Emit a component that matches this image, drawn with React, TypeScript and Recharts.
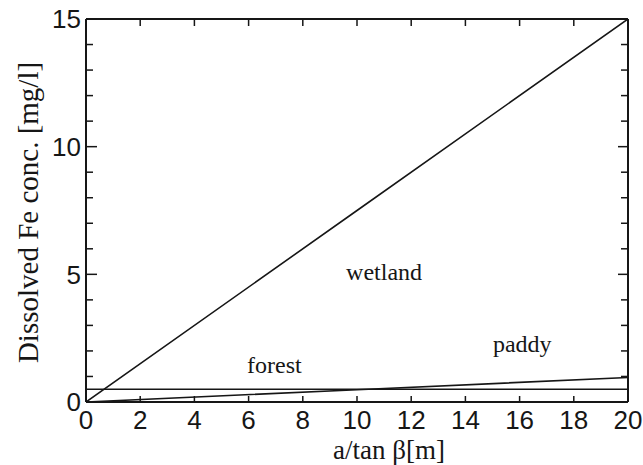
import React from 'react';
import { LineChart, Line, XAxis, YAxis, ReferenceDot, Label } from 'recharts';

// ---- data ----
const xValues = [0, 10, 20];
const wetland = [0, 7.5, 15];
const paddy = [0, 0.48, 0.96];
const forest = [0.5, 0.5, 0.5];

const xTicks = [0, 2, 4, 6, 8, 10, 12, 14, 16, 18, 20];
const yTicks = [0, 1, 2, 3, 4, 5, 6, 7, 8, 9, 10, 11, 12, 13, 14, 15];
const yMajor = [0, 5, 10, 15];

const annotations = [
  { text: 'wetland', x: 11.0, y: 5.1 },
  { text: 'forest', x: 6.95, y: 1.45 },
  { text: 'paddy', x: 16.1, y: 2.3 },
];

const xTitle = 'a/tan β[m]';
const yTitle = 'Dissolved Fe conc. [mg/l]';

const data = xValues.map((x, i) => ({
  x,
  wetland: wetland[i],
  paddy: paddy[i],
  forest: forest[i],
}));

const INK = '#161616';
const SANS = 'Liberation Sans, Arial, sans-serif';
const SERIF = 'Liberation Serif, Times New Roman, serif';
const TICK_FONT = 26;

const LeftTick = (props: any) => {
  const { x, y, payload } = props;
  const axisX = x + 5;
  const major = yMajor.includes(payload.value);
  return (
    <g>
      <line x1={axisX} x2={axisX + (major ? 11 : 7)} y1={y} y2={y} stroke={INK} strokeWidth={1.5} />
      {major && (
        <text x={x} y={y} dy="0.355em" textAnchor="end" fontFamily={SANS} fontSize={TICK_FONT} fill={INK}>
          {payload.value}
        </text>
      )}
    </g>
  );
};

const RightTick = (props: any) => {
  const { x, y, payload } = props;
  const major = yMajor.includes(payload.value);
  return <line x1={x} x2={x - (major ? 10 : 7)} y1={y} y2={y} stroke={INK} strokeWidth={1.5} />;
};

const BottomTick = (props: any) => {
  const { x, y, payload } = props;
  return (
    <g>
      <line x1={x} x2={x} y1={y} y2={y - 6} stroke={INK} strokeWidth={1.5} />
      <text x={x} y={y + 27} textAnchor="middle" fontFamily={SANS} fontSize={TICK_FONT} fill={INK}>
        {payload.value}
      </text>
    </g>
  );
};

const TopTick = (props: any) => {
  const { x, y } = props;
  return <line x1={x} x2={x} y1={y} y2={y + 7} stroke={INK} strokeWidth={1.5} />;
};

export default function App() {
  return (
    <div style={{ position: 'absolute', left: 0, top: 0, width: 643, height: 465, background: '#fff' }}>
      <LineChart width={643} height={465} data={data} margin={{ top: 18, right: 14, left: 0, bottom: 0 }}>
        <XAxis
          xAxisId="bottom"
          dataKey="x"
          type="number"
          domain={[0, 20]}
          allowDataOverflow
          ticks={xTicks}
          interval={0}
          height={63}
          tickSize={0}
          tickMargin={0}
          tickLine={false}
          tick={<BottomTick />}
          axisLine={{ stroke: INK, strokeWidth: 2 }}
        >
          <Label
            content={(p: any) => {
              const vb = p.viewBox;
              return (
                <text
                  x={vb.x + vb.width / 2 + 32}
                  y={vb.y + vb.height - 6}
                  textAnchor="middle"
                  fontFamily={SERIF}
                  fontSize={27}
                  fill={INK}
                >
                  {xTitle}
                </text>
              );
            }}
          />
        </XAxis>
        <XAxis
          xAxisId="top"
          orientation="top"
          dataKey="x"
          type="number"
          domain={[0, 20]}
          allowDataOverflow
          ticks={xTicks}
          interval={0}
          height={1}
          tickSize={0}
          tickMargin={0}
          tickLine={false}
          tick={<TopTick />}
          axisLine={{ stroke: INK, strokeWidth: 2 }}
        />
        <YAxis
          yAxisId="left"
          type="number"
          domain={[0, 15]}
          allowDataOverflow
          ticks={yTicks}
          interval={0}
          width={86}
          tickSize={0}
          tickMargin={5}
          tickLine={false}
          tick={<LeftTick />}
          axisLine={{ stroke: INK, strokeWidth: 2 }}
        >
          <Label
            content={(p: any) => {
              const vb = p.viewBox;
              const bx = 38;
              const cy = vb.y + vb.height / 2 + 2;
              return (
                <text
                  x={bx}
                  y={cy}
                  transform={`rotate(-90, ${bx}, ${cy})`}
                  textAnchor="middle"
                  fontFamily={SERIF}
                  fontSize={29}
                  fill={INK}
                >
                  {yTitle}
                </text>
              );
            }}
          />
        </YAxis>
        <YAxis
          yAxisId="right"
          orientation="right"
          type="number"
          domain={[0, 15]}
          allowDataOverflow
          ticks={yTicks}
          interval={0}
          width={1}
          tickSize={0}
          tickMargin={0}
          tickLine={false}
          tick={<RightTick />}
          axisLine={{ stroke: INK, strokeWidth: 2 }}
        />
        <Line
          xAxisId="bottom"
          yAxisId="left"
          dataKey="wetland"
          type="linear"
          stroke={INK}
          strokeWidth={1.6}
          dot={false}
          isAnimationActive={false}
        />
        <Line
          xAxisId="bottom"
          yAxisId="left"
          dataKey="forest"
          type="linear"
          stroke={INK}
          strokeWidth={1.6}
          dot={false}
          isAnimationActive={false}
        />
        <Line
          xAxisId="top"
          yAxisId="right"
          dataKey="paddy"
          type="linear"
          stroke={INK}
          strokeWidth={1.6}
          dot={false}
          isAnimationActive={false}
        />
        {annotations.map((a) => (
          <ReferenceDot
            key={a.text}
            xAxisId="bottom"
            yAxisId="left"
            x={a.x}
            y={a.y}
            r={0}
            fill="none"
            stroke="none"
            ifOverflow="visible"
          >
            <Label value={a.text} position="center" fontFamily={SERIF} fontSize={24} fill={INK} />
          </ReferenceDot>
        ))}
      </LineChart>
    </div>
  );
}
